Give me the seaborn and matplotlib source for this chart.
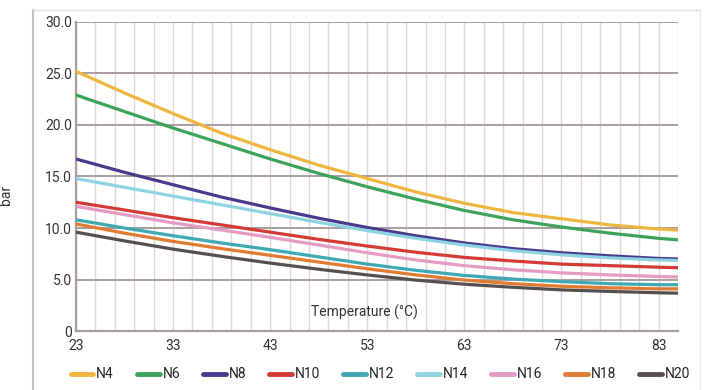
import numpy as np
import pandas as pd
import matplotlib
matplotlib.use("Agg")
import matplotlib.pyplot as plt
import seaborn as sns
from matplotlib.lines import Line2D

temps = [23, 28, 33, 38, 43, 48, 53, 58, 63, 68, 73, 78, 83, 85]
series_names = ["N4", "N6", "N8", "N10", "N12", "N14", "N16", "N18", "N20"]
n4 = [25.2, 23.1, 21.1, 19.2, 17.6, 16.1, 14.8, 13.5, 12.4, 11.5, 10.9, 10.3, 9.9, 9.8]
n6 = [22.9, 21.3, 19.7, 18.2, 16.7, 15.3, 14.0, 12.8, 11.7, 10.8, 10.1, 9.5, 9.0, 8.85]
n8 = [16.7, 15.4, 14.2, 13.0, 11.95, 10.95, 10.05, 9.25, 8.55, 8.0, 7.6, 7.3, 7.05, 7.0]
n10 = [12.5, 11.75, 11.0, 10.3, 9.6, 8.9, 8.25, 7.65, 7.15, 6.8, 6.5, 6.35, 6.2, 6.15]
n12 = [10.8, 10.0, 9.25, 8.55, 7.9, 7.2, 6.5, 5.9, 5.4, 5.05, 4.8, 4.6, 4.5, 4.5]
n14 = [14.8, 13.95, 13.1, 12.25, 11.4, 10.55, 9.75, 9.0, 8.35, 7.8, 7.4, 7.1, 6.9, 6.85]
n16 = [12.1, 11.3, 10.5, 9.8, 9.1, 8.35, 7.6, 6.9, 6.35, 5.95, 5.65, 5.45, 5.3, 5.25]
n18 = [10.4, 9.5, 8.7, 8.0, 7.35, 6.7, 6.05, 5.45, 4.95, 4.6, 4.35, 4.2, 4.1, 4.1]
n20 = [9.6, 8.75, 7.95, 7.25, 6.6, 6.0, 5.45, 4.95, 4.55, 4.25, 4.0, 3.85, 3.72, 3.68]
values = [n4, n6, n8, n10, n12, n14, n16, n18, n20]
colors = ["#EFB63F", "#3EA35A", "#4A3A8C", "#D43B36", "#3FA9B3",
          "#8ED3E2", "#E49BC4", "#E07B32", "#55504F"]
x_ticks = [23, 33, 43, 53, 63, 73, 83]
y_ticks = [0, 5, 10, 15, 20, 25, 30]
y_tick_labels = ["0", "5.0", "10.0", "15.0", "20.0", "25.0", "30.0"]

rows = []
for name, vals in zip(series_names, values):
    for t, v in zip(temps, vals):
        rows.append({"Temperature": t, "bar": v, "series": name})
df = pd.DataFrame(rows)
palette = dict(zip(series_names, colors))

sns.set_style("white")
plt.rcParams['font.family'] = ['Roboto', 'DejaVu Sans']

fig = plt.figure(figsize=(7.06, 3.90), dpi=100)
ax = fig.add_axes([0.1076, 0.151, 0.8527, 0.793])

# grid
for gx in np.arange(23, 86, 2):
    ax.axvline(gx, color="#DDD5D5", lw=1.0, zorder=0)
for gy in y_ticks[1:]:
    ax.axhline(gy, color="#A99E9E", lw=1.4, zorder=0.5)

sns.lineplot(data=df, x="Temperature", y="bar", hue="series", palette=palette,
             hue_order=series_names, lw=2.3, ax=ax, legend=False, zorder=3)

ax.set_xlim(23, 85)
ax.set_ylim(0, 30)
ax.set_xticks(x_ticks)
ax.set_xticklabels([str(v) for v in x_ticks])
ax.set_yticks(y_ticks)
ax.set_yticklabels(y_tick_labels)
ax.tick_params(axis="both", labelsize=10, colors="#333333", length=3, width=1.2)
ax.tick_params(axis="x", colors="#A99E9E", labelcolor="#333333", pad=3)
ax.tick_params(axis="y", length=0, pad=3)
for s in ["top", "right"]:
    ax.spines[s].set_visible(False)
for s in ["left", "bottom"]:
    ax.spines[s].set_color("#A99E9E")
    ax.spines[s].set_linewidth(1.6)

ax.set_xlabel("Temperature (°C)", fontsize=10, color="#333333")
ax.xaxis.set_label_coords(0.48, 0.085)
ax.set_ylabel("bar", fontsize=10, color="#333333")
ax.yaxis.set_label_coords(-0.105, 0.44)

handles = [Line2D([0], [0], color=c, lw=3.5) for c in colors]
fig.legend(handles, series_names, loc="center", bbox_to_anchor=(0.539, 0.04),
           ncol=9, frameon=False, fontsize=10, handlelength=1.65,
           handletextpad=0.2, columnspacing=1.65)

# outer frame lines
fig.add_artist(Line2D([33/706, 33/706], [0, 1 - 10/390], transform=fig.transFigure,
                      color="#C8C0C0", lw=1.5))
fig.add_artist(Line2D([33/706, 700/706], [1 - 10/390, 1 - 10/390], transform=fig.transFigure,
                      color="#E4DEDE", lw=1.0))
fig.add_artist(Line2D([700/706, 700/706], [0, 1 - 10/390], transform=fig.transFigure,
                      color="#ECE6E6", lw=1.0))

fig.savefig("out.png", dpi=100)
